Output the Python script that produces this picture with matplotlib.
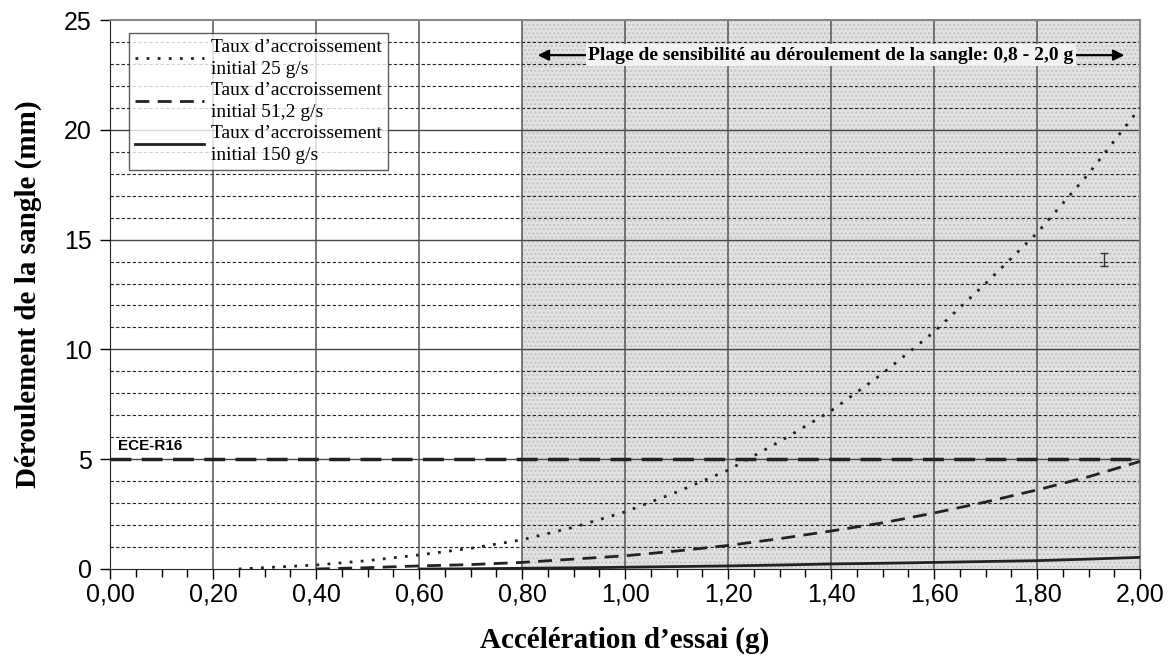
import matplotlib
matplotlib.use('Agg')
import matplotlib.pyplot as plt
import numpy as np

# Data
accel = [0.25, 0.30, 0.40, 0.50, 0.60, 0.70, 0.80, 0.90, 1.00, 1.10, 1.20, 1.30, 1.40, 1.50, 1.60, 1.70, 1.80, 1.90, 2.00]
unroll_25 = [0.0, 0.06, 0.18, 0.38, 0.64, 0.94, 1.33, 1.9, 2.6, 3.5, 4.5, 5.8, 7.2, 8.9, 10.8, 13.0, 15.3, 18.0, 21.0]

accel_51 = [0.40, 0.50, 0.60, 0.70, 0.80, 0.90, 1.00, 1.10, 1.20, 1.30, 1.40, 1.50, 1.60, 1.70, 1.80, 1.90, 2.00]
unroll_51 = [0.0, 0.06, 0.14, 0.2, 0.3, 0.45, 0.6, 0.82, 1.07, 1.38, 1.73, 2.1, 2.55, 3.05, 3.6, 4.2, 4.9]

accel_150 = [0.60, 0.70, 0.80, 0.90, 1.00, 1.10, 1.20, 1.30, 1.40, 1.50, 1.60, 1.70, 1.80, 1.90, 2.00]
unroll_150 = [0.0, 0.01, 0.03, 0.05, 0.08, 0.11, 0.14, 0.18, 0.23, 0.26, 0.3, 0.34, 0.38, 0.45, 0.53]

ece_limit = 5
range_start, range_end = 0.8, 2.0
err_x, err_y, err_half = 1.93, 14.1, 0.3

labels = ['Taux d’accroissement\ninitial 25 g/s',
          'Taux d’accroissement\ninitial 51,2 g/s',
          'Taux d’accroissement\ninitial 150 g/s']

fig = plt.figure(figsize=(11.67, 6.63), dpi=100)
ax = fig.add_axes([0.0943, 0.1418, 0.8826, 0.828])

# shaded sensitivity range
ax.axvspan(range_start, range_end, facecolor='#e2e2e2', edgecolor='#c4c4c4',
           hatch='....', linewidth=0, zorder=0)

# grid
for y in range(1, 25):
    if y % 5 == 0:
        ax.axhline(y, color='#444444', lw=1.0, zorder=1)
    else:
        ax.axhline(y, color='#222222', lw=0.8, ls=(0, (3, 2)), zorder=1)
for x in np.arange(0.2, 2.0, 0.2):
    ax.axvline(x, color='#555555', lw=1.1, zorder=1)

# ECE-R16 limit
ax.axhline(ece_limit, color='#222222', lw=2.5, ls=(0, (6, 3)), zorder=2)
ax.text(0.016, 5.3, 'ECE-R16', fontsize=11, fontweight='bold',
        family='Liberation Sans', ha='left', va='bottom')

# curves
l1, = ax.plot(accel, unroll_25, color='#222222', lw=2.0, ls=(0, (1, 3)), zorder=3)
l2, = ax.plot(accel_51, unroll_51, color='#222222', lw=2.0, ls=(0, (5, 3)), zorder=3)
l3, = ax.plot(accel_150, unroll_150, color='#222222', lw=2.0, ls='-', zorder=3)

ax.errorbar([err_x], [err_y], yerr=[err_half], fmt='none', ecolor='#333333',
            capsize=3, lw=1, zorder=3)

# range annotation
mid = 1.40
ax.annotate('', xy=(0.825, 23.4), xytext=(mid, 23.4),
            arrowprops=dict(arrowstyle='-|>', color='black', lw=1.6, mutation_scale=16), zorder=4)
ax.annotate('', xy=(1.975, 23.4), xytext=(mid, 23.4),
            arrowprops=dict(arrowstyle='-|>', color='black', lw=1.6, mutation_scale=16), zorder=4)
ax.text(mid, 23.4, 'Plage de sensibilité au déroulement de la sangle: 0,8 - 2,0 g',
        family='Liberation Serif', fontsize=14, fontweight='bold', ha='center', va='center',
        bbox=dict(facecolor='#f2f2f2', edgecolor='none', pad=2), zorder=5)

# legend
leg = ax.legend([l1, l2, l3], labels, loc='upper left', bbox_to_anchor=(0.0184, 0.9764),
                prop={'family': 'Liberation Serif', 'size': 14}, frameon=True, fancybox=False,
                edgecolor='#333333', handlelength=3.55, borderpad=0.3, labelspacing=0.2,
                handletextpad=0.36, borderaxespad=0)
leg.get_frame().set_linewidth(1.0)
leg.set_zorder(6)
for t in leg.get_texts():
    t.set_linespacing(1.4)

# axes
ax.set_xlim(0, 2.0)
ax.set_ylim(0, 25)
ax.set_xticks(np.arange(0, 2.01, 0.2))
ax.set_xticklabels([f'{v:.2f}'.replace('.', ',') for v in np.arange(0, 2.01, 0.2)])
ax.set_xticks(np.arange(0, 2.01, 0.05), minor=True)
ax.set_yticks(range(0, 26, 5))
ax.tick_params(axis='both', which='major', labelsize=18, direction='out', length=7, width=1.0)
ax.tick_params(axis='x', which='minor', direction='out', length=6, width=1.0)
ax.tick_params(axis='x', pad=3)
ax.tick_params(axis='y', pad=6)
for lab in ax.get_xticklabels() + ax.get_yticklabels():
    lab.set_family('Liberation Sans')

for side in ['top', 'right']:
    ax.spines[side].set_color('#888888')
    ax.spines[side].set_linewidth(1.5)
ax.spines['left'].set_color('#222222')
ax.spines['bottom'].set_color('#222222')

ax.set_xlabel('Accélération d’essai (g)', family='Liberation Serif', fontsize=21,
              fontweight='bold')
ax.set_ylabel('Déroulement de la sangle (mm)', family='Liberation Serif', fontsize=21,
              fontweight='bold')
ax.xaxis.set_label_coords(0.5, -0.105)
ax.yaxis.set_label_coords(-0.066, 0.5)

fig.savefig('out.png', dpi=100)
